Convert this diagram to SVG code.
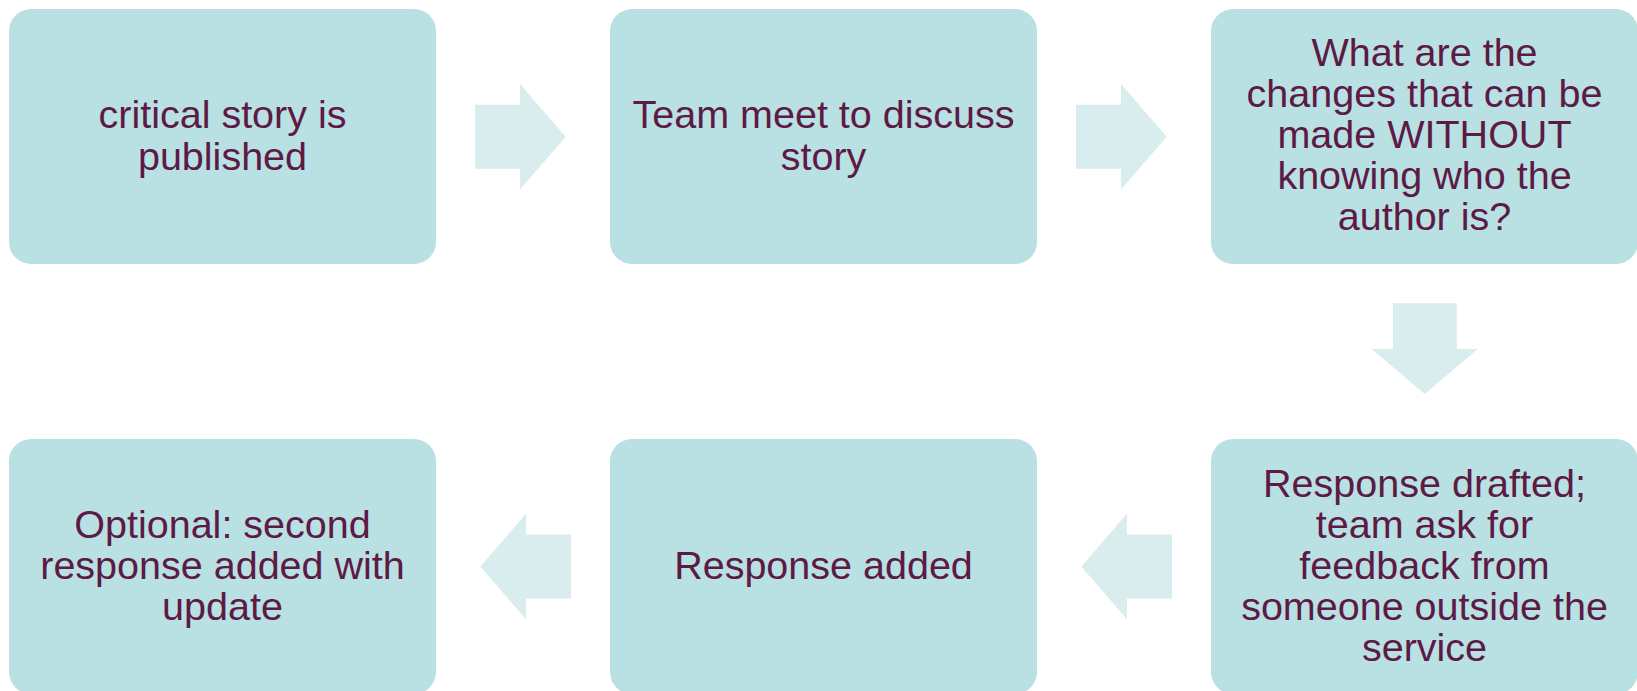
<svg xmlns="http://www.w3.org/2000/svg" width="1637" height="691" viewBox="0 0 1637 691">
<style>
.box{fill:#b9e0e3}
.arr{fill:#d9ecee}
text{font-family:"Liberation Sans",Arial,sans-serif;font-size:39.5px;fill:#5c1a45;text-anchor:middle}
</style>
<rect x="0" y="0" width="1637" height="691" fill="#ffffff"/>
<g id="connectors">
<path class="arr" d="M475,104.7 H520 V84 L565.7,136.7 L520,189.5 V168.7 H475 Z"/>
<path class="arr" d="M1076,104.7 H1121 V84 L1166.7,136.7 L1121,189.5 V168.7 H1076 Z"/>
<path class="arr" d="M1393,303.3 H1456.7 V349 H1477.7 L1424.7,394 L1371.7,349 H1393 Z"/>
<path class="arr" d="M1172,534.5 H1127 V513.8 L1081.3,566.5 L1127,619.2 V598.5 H1172 Z"/>
<path class="arr" d="M571,534.5 H526 V513.8 L480.3,566.5 L526,619.2 V598.5 H571 Z"/>
</g>
<g id="node1">
<rect class="box" x="9" y="9" width="427" height="255" rx="22"/>
<text x="222.5" y="128.3">critical story is</text>
<text x="222.5" y="170.3">published</text>
</g>
<g id="node2">
<rect class="box" x="610" y="9" width="427" height="255" rx="22"/>
<text x="823.5" y="128.3">Team meet to discuss</text>
<text x="823.5" y="170.3">story</text>
</g>
<g id="node3">
<rect class="box" x="1211" y="9" width="427" height="255" rx="22"/>
<text x="1424.5" y="65.5">What are the</text>
<text x="1424.5" y="106.5">changes that can be</text>
<text x="1424.5" y="147.5">made WITHOUT</text>
<text x="1424.5" y="188.5">knowing who the</text>
<text x="1424.5" y="229.5">author is?</text>
</g>
<g id="node6">
<rect class="box" x="1211" y="439" width="427" height="255" rx="22"/>
<text x="1424.5" y="497">Response drafted;</text>
<text x="1424.5" y="538">team ask for</text>
<text x="1424.5" y="578.5">feedback from</text>
<text x="1424.5" y="619.5">someone outside the</text>
<text x="1424.5" y="660.5">service</text>
</g>
<g id="node5">
<rect class="box" x="610" y="439" width="427" height="255" rx="22"/>
<text x="823.5" y="578.5">Response added</text>
</g>
<g id="node4">
<rect class="box" x="9" y="439" width="427" height="255" rx="22"/>
<text x="222.5" y="537.5">Optional: second</text>
<text x="222.5" y="578.5">response added with</text>
<text x="222.5" y="619.5">update</text>
</g>
</svg>
